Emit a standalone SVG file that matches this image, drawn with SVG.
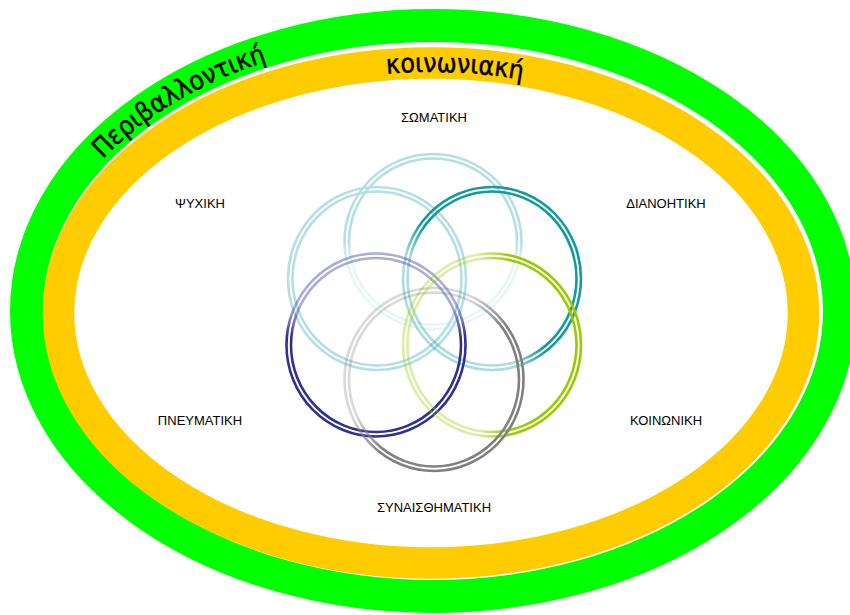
<svg xmlns="http://www.w3.org/2000/svg" width="850" height="615" viewBox="0 0 850 615">
  <style>
    .ring { fill: none; }
    .lbl { font-family: "Liberation Sans", Arial, sans-serif; font-size: 13px; fill: #000; text-anchor: middle; }
    .arc { font-family: "DejaVu Sans Condensed", "DejaVu Sans", sans-serif; font-stretch: condensed; font-size: 26.5px; fill: #000; stroke: #000; stroke-width: 0.45; }
    .c { fill: none; stroke-width: 2.6; }
  </style>
  <defs>
    <path id="pGreen" d="M 37,311 A 396,275 0 0 1 829,311"/>
    <path id="pOrange" d="M 70,313 A 361,241 0 0 1 792,313"/>
    <linearGradient id="gTop" x1="0" y1="0" x2="0" y2="1">
      <stop offset="0" stop-color="#b5dfe4" stop-opacity="1"/>
      <stop offset="0.5" stop-color="#b5dfe4" stop-opacity="1"/>
      <stop offset="0.62" stop-color="#b5dfe4" stop-opacity="0.3"/>
      <stop offset="1" stop-color="#b5dfe4" stop-opacity="0.3"/>
    </linearGradient>
    <linearGradient id="gTeal" x1="1" y1="0" x2="0" y2="1">
      <stop offset="0" stop-color="#139a9a" stop-opacity="1"/>
      <stop offset="0.55" stop-color="#139a9a" stop-opacity="1"/>
      <stop offset="0.68" stop-color="#139a9a" stop-opacity="0.35"/>
      <stop offset="1" stop-color="#139a9a" stop-opacity="0.35"/>
    </linearGradient>
    <linearGradient id="gNavy" x1="0" y1="0" x2="0" y2="1">
      <stop offset="0" stop-color="#2e3192" stop-opacity="0.4"/>
      <stop offset="0.3" stop-color="#2e3192" stop-opacity="0.4"/>
      <stop offset="0.45" stop-color="#2e3192" stop-opacity="1"/>
      <stop offset="1" stop-color="#2e3192" stop-opacity="1"/>
    </linearGradient>
    <linearGradient id="gGreen" x1="0" y1="0" x2="1" y2="0">
      <stop offset="0" stop-color="#99cc00" stop-opacity="0.35"/>
      <stop offset="0.42" stop-color="#99cc00" stop-opacity="0.35"/>
      <stop offset="0.6" stop-color="#99cc00" stop-opacity="1"/>
      <stop offset="1" stop-color="#99cc00" stop-opacity="1"/>
    </linearGradient>
    <linearGradient id="gGray" x1="0" y1="0" x2="1" y2="1">
      <stop offset="0" stop-color="#808080" stop-opacity="0.3"/>
      <stop offset="0.38" stop-color="#808080" stop-opacity="0.3"/>
      <stop offset="0.55" stop-color="#808080" stop-opacity="1"/>
      <stop offset="1" stop-color="#808080" stop-opacity="1"/>
    </linearGradient>
  </defs>
  <rect width="850" height="615" fill="#fff"/>

  <g id="periv">
    <ellipse class="ring" cx="433" cy="311" rx="406.5" ry="285.5" stroke="#00ff00" stroke-width="33"/>
    <text class="arc"><textPath href="#pGreen" startOffset="266" text-anchor="middle">Περιβαλλοντική</textPath></text>
  </g>
  <g id="koin">
    <ellipse class="ring" cx="431" cy="313" rx="372.5" ry="250" stroke="#ffcc00" stroke-width="31.5"/>
    <text class="arc"><textPath href="#pOrange" startOffset="501" text-anchor="middle">κοινωνιακή</textPath></text>
  </g>

  <g id="circles">
    <g id="c-somatiki">
      <ellipse class="c" cx="433" cy="241.5" rx="88.5" ry="87.5" stroke="url(#gTop)"/>
      <ellipse class="c" cx="433" cy="241.5" rx="84" ry="83" stroke="url(#gTop)"/>
    </g>
    <g id="c-psyxiki">
      <ellipse class="c" cx="377" cy="278.5" rx="89" ry="91.5" stroke="#b5dfe4"/>
      <ellipse class="c" cx="377" cy="278.5" rx="84.5" ry="87" stroke="#b5dfe4"/>
    </g>
    <g id="c-dianoitiki">
      <ellipse class="c" cx="492" cy="278.5" rx="89" ry="91.5" stroke="url(#gTeal)"/>
      <ellipse class="c" cx="492" cy="278.5" rx="84.5" ry="87" stroke="url(#gTeal)"/>
    </g>
    <g id="c-pnevmatiki">
      <ellipse class="c" cx="376" cy="345" rx="89.5" ry="91.5" stroke="url(#gNavy)"/>
      <ellipse class="c" cx="376" cy="345" rx="85" ry="87" stroke="url(#gNavy)"/>
    </g>
    <g id="c-koinoniki">
      <ellipse class="c" cx="492" cy="345" rx="89" ry="91.5" stroke="url(#gGreen)"/>
      <ellipse class="c" cx="492" cy="345" rx="84.5" ry="87" stroke="url(#gGreen)"/>
    </g>
    <g id="c-synaisthimatiki">
      <ellipse class="c" cx="434" cy="379.5" rx="89.5" ry="91.5" stroke="url(#gGray)"/>
      <ellipse class="c" cx="434" cy="379.5" rx="85" ry="87" stroke="url(#gGray)"/>
    </g>
  </g>

  <g id="labels">
    <text class="lbl" x="434" y="122">ΣΩΜΑΤΙΚΗ</text>
    <text class="lbl" x="200" y="208">ΨΥΧΙΚΗ</text>
    <text class="lbl" x="666" y="208">ΔΙΑΝΟΗΤΙΚΗ</text>
    <text class="lbl" x="200" y="425">ΠΝΕΥΜΑΤΙΚΗ</text>
    <text class="lbl" x="666" y="425">ΚΟΙΝΩΝΙΚΗ</text>
    <text class="lbl" x="434" y="512">ΣΥΝΑΙΣΘΗΜΑΤΙΚΗ</text>
  </g>
</svg>
